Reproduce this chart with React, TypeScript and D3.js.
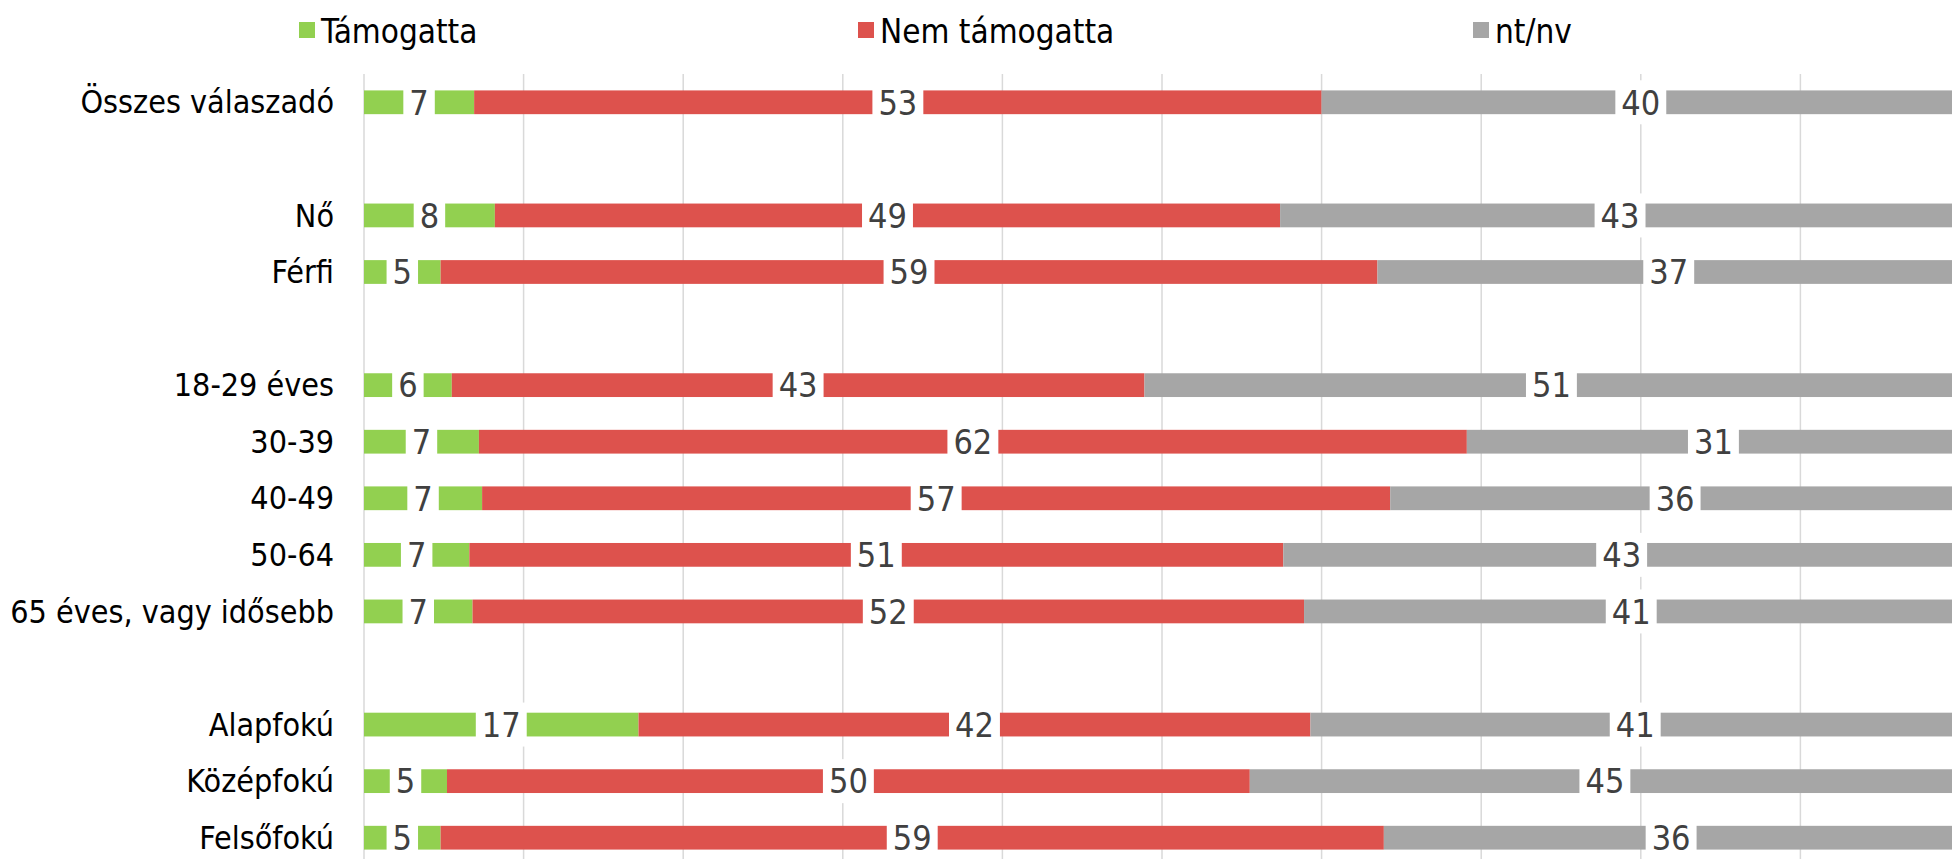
import React, { useEffect, useRef } from "react";
import * as d3 from "d3";

const categories = [
  "Összes válaszadó", "", "Nő", "Férfi", " ", "18-29 éves", "30-39", "40-49", "50-64",
  "65 éves, vagy idősebb", "  ", "Alapfokú", "Középfokú", "Felsőfokú",
];
const seriesNames = ["Támogatta", "Nem támogatta", "nt/nv"];
const supportValues = [6.9, null, 8.2, 4.8, null, 5.5, 7.2, 7.4, 6.6, 6.8, null, 17.2, 5.2, 4.8];
const opposeValues = [53.1, null, 49.2, 58.7, null, 43.4, 61.9, 56.9, 51.0, 52.1, null, 42.1, 50.3, 59.1];
const dkValues = [40, null, 43, 37, null, 51, 31, 36, 43, 41, null, 41, 45, 36];
const gridTicks = [0, 10, 20, 30, 40, 50, 60, 70, 80, 90, 100];
const colors = ["#92D050", "#DD524D", "#A6A6A6"];

const W = 1952;
const H = 859;
const FONT = "'DejaVu Sans Condensed', 'DejaVu Sans', sans-serif";
const NUM_FONT = "'Liberation Sans Narrow', 'DejaVu Sans Condensed', sans-serif";

export default function App() {
  const ref = useRef<SVGSVGElement | null>(null);

  useEffect(() => {
    const svg = d3.select(ref.current);
    svg.selectAll("*").remove();

    const x = d3.scaleLinear().domain([0, 100]).range([364, 1960]);
    const y = d3.scaleBand<number>()
      .domain(d3.range(categories.length))
      .range([74, 866])
      .paddingInner(0.58)
      .paddingOuter(0.29);

    // gridlines
    svg.append("g").selectAll("line").data(gridTicks).join("line")
      .attr("x1", (d) => x(d)).attr("x2", (d) => x(d))
      .attr("y1", 74).attr("y2", H)
      .attr("stroke", "#D9D9D9").attr("stroke-width", 1.5);

    // legend
    const legendX = [299, 858, 1473];
    const lg = svg.append("g");
    seriesNames.forEach((name, i) => {
      lg.append("rect").attr("x", legendX[i]).attr("y", 22).attr("width", 16).attr("height", 16).attr("fill", colors[i]);
      lg.append("text").attr("x", legendX[i] + 22).attr("y", 31).attr("dy", "0.35em")
        .attr("font-family", FONT).attr("font-size", 33).attr("fill", "#000").text(name);
    });

    const series = [supportValues, opposeValues, dkValues];
    const rows = categories.map((c, i) => ({ c, i, vals: series.map((s) => s[i]) }));

    // category labels
    svg.append("g").selectAll("text").data(rows.filter((r) => r.c.trim() !== "")).join("text")
      .attr("x", 334).attr("y", (r) => y(r.i)! + y.bandwidth() / 2).attr("dy", "0.35em")
      .attr("text-anchor", "end").attr("font-family", FONT).attr("font-size", 32).attr("fill", "#000")
      .text((r) => r.c);

    const barG = svg.append("g");
    const labG = svg.append("g");
    rows.forEach((r) => {
      if (r.vals[0] == null) return;
      let acc = 0;
      r.vals.forEach((v, si) => {
        const val = v as number;
        const a = Math.min(acc, 100), b = Math.min(acc + val, 100);
        acc += val;
        const x0 = x(a), x1 = x(b);
        const yy = y(r.i)!;
        barG.append("rect").attr("x", x0).attr("y", yy).attr("width", Math.max(0, x1 - x0)).attr("height", y.bandwidth())
          .attr("fill", colors[si]);
        const cx = (x0 + x1) / 2;
        const cy = yy + y.bandwidth() / 2;
        const t = labG.append("text").attr("x", cx).attr("y", cy).attr("dy", "0.36em")
          .attr("text-anchor", "middle").attr("font-family", NUM_FONT).attr("font-size", 34)
          .attr("fill", "#404040").text(String(Math.round(val)));
        const bb = (t.node() as SVGTextElement).getBBox();
        labG.insert("rect", () => t.node() as any)
          .attr("x", cx - bb.width / 2 - 6).attr("y", cy - 22).attr("width", bb.width + 12).attr("height", 44)
          .attr("fill", "#fff");
      });
    });
  }, []);

  return (
    <svg ref={ref} width={W} height={H}
      style={{ position: "absolute", left: 0, top: 0, display: "block", background: "#fff", overflow: "hidden" }} />
  );
}
